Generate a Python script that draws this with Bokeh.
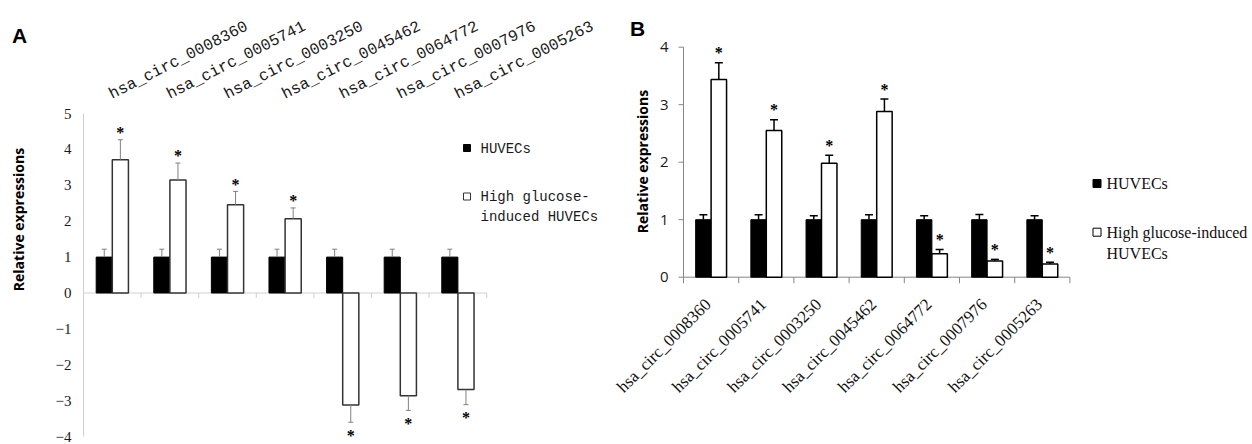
import numpy as np
from math import radians, pi
from bokeh.plotting import figure
from bokeh.models import Range1d
from bokeh.layouts import row
from bokeh.embed import file_html
from bokeh.resources import INLINE
from bokeh.core.properties import value

# ---------------- data ----------------
categories = ["hsa_circ_0008360", "hsa_circ_0005741", "hsa_circ_0003250",
              "hsa_circ_0045462", "hsa_circ_0064772", "hsa_circ_0007976",
              "hsa_circ_0005263"]

# Panel A
huvec_a = [1.0, 1.0, 1.0, 1.0, 1.0, 1.0, 1.0]
huvec_a_err = [0.22, 0.22, 0.22, 0.22, 0.22, 0.22, 0.22]
hg_a = [3.71, 3.15, 2.46, 2.07, -3.12, -2.86, -2.69]
hg_a_err = [0.56, 0.47, 0.37, 0.30, 0.48, 0.41, 0.42]
a_yticks = [-4, -3, -2, -1, 0, 1, 2, 3, 4, 5]
a_ylabels = ["\u22124", "\u22123", "\u22122", "\u22121", "0", "1", "2", "3", "4", "5"]
a_legend_lines = [["HUVECs"], ["High glucose-", "induced HUVECs"]]

# Panel B
huvec_b = [1.0, 1.0, 1.0, 1.0, 1.0, 1.0, 1.0]
huvec_b_err = [0.085, 0.085, 0.07, 0.085, 0.07, 0.09, 0.07]
hg_b = [3.44, 2.55, 1.98, 2.88, 0.41, 0.28, 0.23]
hg_b_err = [0.29, 0.19, 0.14, 0.22, 0.07, 0.03, 0.03]
b_yticks = [0, 1, 2, 3, 4]
b_ylabels = ["0", "1", "2", "3", "4"]
b_legend_lines = [["HUVECs"], ["High glucose-induced", "HUVECs"]]

y_title = "Relative expressions"
panel_letters = ["A", "B"]
star = "*"

# ---------------- layout constants (pixels) ----------------
H = 444
n = len(categories)
xs = np.arange(1, n + 1, dtype=float)
bounds_x = np.arange(n + 1) + 0.5
BW = 0.28


def ends(vals, errs):
    return [v + (e if v >= 0 else -e) for v, e in zip(vals, errs)]


def stars_at(vals, errs, pad_pos, pad_neg):
    return [v + (e + pad_pos if v >= 0 else -(e + pad_neg)) for v, e in zip(vals, errs)]


def make_panel(width, page_left, x0_px, ux, y0_px, uy):
    xs0 = 0.5 - x0_px / ux
    rng_x = Range1d(xs0, xs0 + width / ux)
    rng_y = Range1d(-(H - y0_px) / uy, y0_px / uy)
    p = figure(width=width, height=H, x_range=rng_x, y_range=rng_y,
               x_axis_type=None, y_axis_type=None, toolbar_location=None,
               output_backend="svg", min_border=0, min_border_left=0,
               min_border_right=0, min_border_top=0, min_border_bottom=0,
               outline_line_color=None, background_fill_color="white",
               border_fill_color="white")

    def fx(px_page):
        return xs0 + (px_page - page_left) / ux

    def fy(py_page):
        return (y0_px - py_page) / uy

    return p, fx, fy


# ================= Panel A =================
A_UX, A_UY = 57.6, 35.9
pA, ax, ay = make_panel(608, 0, 83, A_UX, 292.5, A_UY)

# y axis (line + labels)
pA.segment(x0=[0.5], y0=[min(a_yticks)], x1=[0.5], y1=[max(a_yticks)],
           line_color="#d0d0d0", line_width=1)
pA.text(x=[0.5 - 12 / A_UX] * len(a_yticks), y=a_yticks, text=a_ylabels,
        text_align="right", text_baseline="middle",
        text_font=value("Liberation Serif"), text_font_size="15px",
        text_color="#1a1a1a")
# zero line with category ticks
pA.segment(x0=[bounds_x[0]], y0=[0], x1=[bounds_x[-1]], y1=[0],
           line_color="#d0d0d0", line_width=1)
pA.segment(x0=bounds_x, y0=0, x1=bounds_x, y1=-5 / A_UY, line_color="#d0d0d0", line_width=1)

# bars
pA.vbar(x=xs - BW / 2, top=huvec_a, bottom=0, width=BW,
        fill_color="black", line_color="black", line_width=1)
pA.vbar(x=xs + BW / 2, top=hg_a, bottom=0, width=BW,
        fill_color="white", line_color="#333333", line_width=1.5)

endA_b = ends(huvec_a, huvec_a_err)
endA_w = ends(hg_a, hg_a_err)
for xx, v0, v1 in ((xs - BW / 2, huvec_a, endA_b), (xs + BW / 2, hg_a, endA_w)):
    pA.segment(x0=xx, y0=v0, x1=xx, y1=v1, line_color="#808080", line_width=1)
    pA.scatter(x=xx, y=v1, marker="dash", size=5, line_color="#808080", line_width=1)

pA.text(x=xs + BW / 2, y=stars_at(hg_a, hg_a_err, 0.2, 0.37), text=[star] * n,
        text_align="center", text_baseline="middle",
        text_font=value("Liberation Serif"), text_font_size="16px",
        text_font_style="bold", text_color="black")

# category labels on top
pA.text(x=xs - 2 / A_UX, y=[ay(95)] * n, text=categories, angle=radians(27),
        text_align="left", text_baseline="alphabetic",
        text_font=value("Liberation Mono"), text_font_size="16px",
        text_color="#1a1a1a")

# legend
pA.scatter(x=[ax(466.5)], y=[ay(147.5)], marker="square", size=7,
           fill_color="black", line_color="black")
pA.scatter(x=[ax(466.5)], y=[ay(196)], marker="square", size=7,
           fill_color="white", line_color="#333333", line_width=1)
leg_y = [ay(148), ay(196), ay(216.7)]
leg_t = [t for item in a_legend_lines for t in item]
pA.text(x=[ax(480)] * len(leg_t), y=leg_y, text=leg_t, text_align="left",
        text_baseline="middle", text_font=value("Liberation Mono"),
        text_font_size="14px", text_color="#1a1a1a")

# panel letter and y title
pA.text(x=[ax(19)], y=[ay(35)], text=[panel_letters[0]], text_align="center",
        text_baseline="middle", text_font=value("Liberation Sans"),
        text_font_style="bold", text_font_size="21px", text_color="black")
pA.text(x=[ax(18)], y=[ay(219)], text=[y_title], angle=pi / 2, text_align="center",
        text_baseline="middle", text_font=value("Open Sans"),
        text_font_style="bold", text_font_size="14px", text_color="black")

# ================= Panel B =================
B_UX, B_UY = 55.2, 57.5
pB, bx, by = make_panel(644, 608, 75, B_UX, 276.7, B_UY)

pB.segment(x0=[0.5], y0=[min(b_yticks)], x1=[0.5], y1=[max(b_yticks)],
           line_color="#868686", line_width=1)
pB.segment(x0=[0.5] * len(b_yticks), y0=b_yticks, x1=[0.5 - 5 / B_UX] * len(b_yticks),
           y1=b_yticks, line_color="#868686", line_width=1)
pB.text(x=[0.5 - 15 / B_UX] * len(b_yticks), y=b_yticks, text=b_ylabels,
        text_align="right", text_baseline="middle",
        text_font=value("Open Sans"), text_font_size="15px", text_color="#1a1a1a")
pB.segment(x0=[bounds_x[0]], y0=[0], x1=[bounds_x[-1]], y1=[0],
           line_color="#868686", line_width=1)
pB.segment(x0=bounds_x, y0=0, x1=bounds_x, y1=-6 / B_UY, line_color="#868686", line_width=1)

pB.vbar(x=xs - BW / 2, top=huvec_b, bottom=0, width=BW,
        fill_color="black", line_color="black", line_width=1)
pB.vbar(x=xs + BW / 2, top=hg_b, bottom=0, width=BW,
        fill_color="white", line_color="black", line_width=1.5)

endB_b = ends(huvec_b, huvec_b_err)
endB_w = ends(hg_b, hg_b_err)
for xx, v0, v1 in ((xs - BW / 2, huvec_b, endB_b), (xs + BW / 2, hg_b, endB_w)):
    pB.segment(x0=xx, y0=v0, x1=xx, y1=v1, line_color="black", line_width=1.5)
    pB.scatter(x=xx, y=v1, marker="dash", size=8, line_color="black", line_width=1.5)

pB.text(x=xs + BW / 2, y=stars_at(hg_b, hg_b_err, 0.17, 0.17), text=[star] * n,
        text_align="center", text_baseline="middle",
        text_font=value("Liberation Serif"), text_font_size="16px",
        text_font_style="bold", text_color="black")

# category labels below, rotated
pB.text(x=xs - 3 / B_UX, y=[by(301)] * n, text=categories, angle=radians(45),
        text_align="right", text_baseline="alphabetic",
        text_font=value("Liberation Serif"), text_font_size="17px",
        text_color="#111111")

# legend
pB.scatter(x=[bx(1096.5)], y=[by(183)], marker="square", size=8,
           fill_color="black", line_color="black")
pB.scatter(x=[bx(1096.5)], y=[by(231.7)], marker="square", size=8,
           fill_color="white", line_color="black", line_width=1)
legb_y = [by(183), by(231.7), by(253)]
legb_t = [t for item in b_legend_lines for t in item]
pB.text(x=[bx(1106)] * len(legb_t), y=legb_y, text=legb_t, text_align="left",
        text_baseline="middle", text_font=value("Liberation Serif"),
        text_font_size="16px", text_color="#111111")

pB.text(x=[bx(637)], y=[by(27.5)], text=[panel_letters[1]], text_align="center",
        text_baseline="middle", text_font=value("Liberation Sans"),
        text_font_style="bold", text_font_size="21px", text_color="black")
pB.text(x=[bx(642)], y=[by(161)], text=[y_title], angle=pi / 2, text_align="center",
        text_baseline="middle", text_font=value("Open Sans"),
        text_font_style="bold", text_font_size="14px", text_color="black")

layout = row(pA, pB)
open("out.html", "w").write(file_html(layout, INLINE, title="Relative expressions"))
